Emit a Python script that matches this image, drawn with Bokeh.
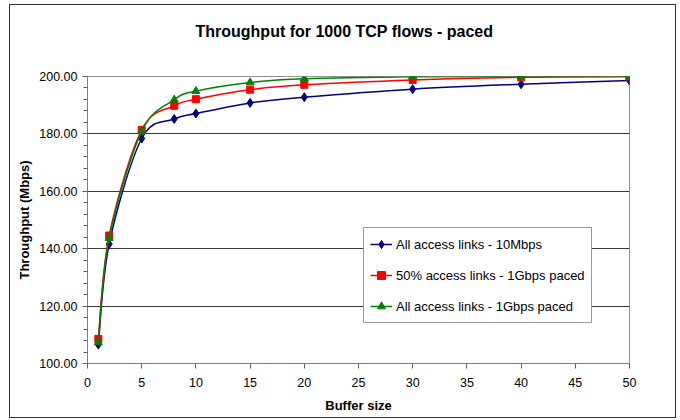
from bokeh.plotting import figure
from bokeh.models import (Legend, LegendItem, PrintfTickFormatter, FixedTicker,
                          Range1d, ColumnDataSource, Title)
from bokeh.embed import file_html
from bokeh.resources import INLINE

# ---- data ----
buffer_size = [1, 2, 5, 8, 10, 15, 20, 30, 40, 50]
tp_all_10mbps = [106.6, 141.6, 178.4, 185.2, 187.1, 190.8, 192.8, 195.6, 197.3, 198.6]
tp_half_1gbps_paced = [108.6, 144.6, 181.4, 189.8, 192.1, 195.4, 197.1, 198.8, 199.7, 200.0]
tp_all_1gbps_paced = [107.4, 143.7, 180.9, 191.9, 194.9, 197.9, 199.2, 199.9, 200.0, 200.0]

series_labels = ["All access links - 10Mbps",
                 "50% access links - 1Gbps paced",
                 "All access links - 1Gbps paced"]
y_ticks = [100, 120, 140, 160, 180, 200]
x_ticks = [0, 5, 10, 15, 20, 25, 30, 35, 40, 45, 50]
chart_title = "Throughput for 1000 TCP flows - paced"

FONT = "Liberation Sans"


def smooth_segments(xs, ys):
    """Bezier control points (Catmull-Rom style, like Excel smoothed lines)."""
    n = len(xs)
    d = dict(x0=[], y0=[], x1=[], y1=[], cx0=[], cy0=[], cx1=[], cy1=[])
    for i in range(n - 1):
        ip = max(i - 1, 0)
        inx = min(i + 2, n - 1)
        d["x0"].append(xs[i]); d["y0"].append(ys[i])
        d["x1"].append(xs[i + 1]); d["y1"].append(ys[i + 1])
        d["cx0"].append(xs[i] + (xs[i + 1] - xs[ip]) / 6.0)
        d["cy0"].append(ys[i] + (ys[i + 1] - ys[ip]) / 6.0)
        d["cx1"].append(xs[i + 1] - (xs[inx] - xs[i]) / 6.0)
        d["cy1"].append(ys[i + 1] - (ys[inx] - ys[i]) / 6.0)
    return ColumnDataSource(d)


p = figure(width=667, height=414,
           x_range=Range1d(0, 50), y_range=Range1d(100, 200),
           output_backend="svg", toolbar_location=None,
           min_border_left=77, min_border_right=48,
           min_border_top=71, min_border_bottom=56)

p.styles = {"border": "1px solid #333333", "margin-left": "9px", "margin-top": "4px"}
p.background_fill_color = "white"
p.border_fill_color = "white"
p.outline_line_color = "#909090"
p.outline_line_width = 1

# spacer between plot area and title, then the title itself (outer)
p.add_layout(Title(text=" ", text_font_size="1px", standoff=33), "above")
p.add_layout(Title(text=chart_title, text_font=FONT, text_font_size="16px",
                   text_font_style="bold", text_color="black",
                   align="left", offset=108, standoff=2), "above")

# grid
p.xgrid.visible = False
p.ygrid.ticker = FixedTicker(ticks=[120, 140, 160, 180])
p.ygrid.grid_line_color = "#3a3a3a"
p.ygrid.grid_line_width = 1

# axes
p.yaxis.ticker = FixedTicker(ticks=y_ticks,
                             minor_ticks=[v for v in range(100, 201, 4)])
p.yaxis.formatter = PrintfTickFormatter(format="%.2f")
p.xaxis.ticker = FixedTicker(ticks=x_ticks, minor_ticks=[])
for ax in (p.xaxis[0], p.yaxis[0]):
    ax.axis_line_color = "#808080"
    ax.major_tick_line_color = "#606060"
    ax.minor_tick_line_color = "#606060"
    ax.major_tick_in = 0
    ax.major_tick_out = 5
    ax.minor_tick_in = 0
    ax.minor_tick_out = 4
    ax.major_label_text_font = FONT
    ax.major_label_text_font_size = "12.5px"
    ax.major_label_text_color = "black"
    ax.axis_label_text_font = FONT
    ax.axis_label_text_font_size = "13px"
    ax.axis_label_text_font_style = "bold"
    ax.axis_label_text_color = "black"

p.xaxis.axis_label = "Buffer size"
p.yaxis.axis_label = "Throughput (Mbps)"
p.xaxis.major_label_standoff = 9
p.xaxis.axis_label_standoff = 8
p.yaxis.major_label_standoff = 5
p.yaxis.axis_label_standoff = 4

# series
styles = [
    (tp_all_10mbps, "#000080", "diamond", 9),
    (tp_half_1gbps_paced, "#ff0000", "square", 7),
    (tp_all_1gbps_paced, "#008000", "triangle", 8),
]

items = []
for (ys, color, marker, size), label in zip(styles, series_labels):
    seg = smooth_segments(buffer_size, ys)
    r_line = p.bezier(x0="x0", y0="y0", x1="x1", y1="y1",
                      cx0="cx0", cy0="cy0", cx1="cx1", cy1="cy1",
                      source=seg, line_color=color, line_width=1.5)
    r_pts = p.scatter(buffer_size, ys, marker=marker, size=size,
                      fill_color=color, line_color=color)
    items.append(LegendItem(label=label, renderers=[r_line, r_pts]))

legend = Legend(items=items, location=(276, 40), orientation="vertical",
                margin=0, padding=6, spacing=11,
                glyph_width=22, glyph_height=20, label_height=20,
                label_standoff=4,
                label_text_font=FONT, label_text_font_size="13px",
                label_text_color="black",
                border_line_color="#333333", border_line_width=1,
                background_fill_color="white", background_fill_alpha=1.0)
p.add_layout(legend, "center")

open("out.html", "w").write(file_html(p, INLINE))
